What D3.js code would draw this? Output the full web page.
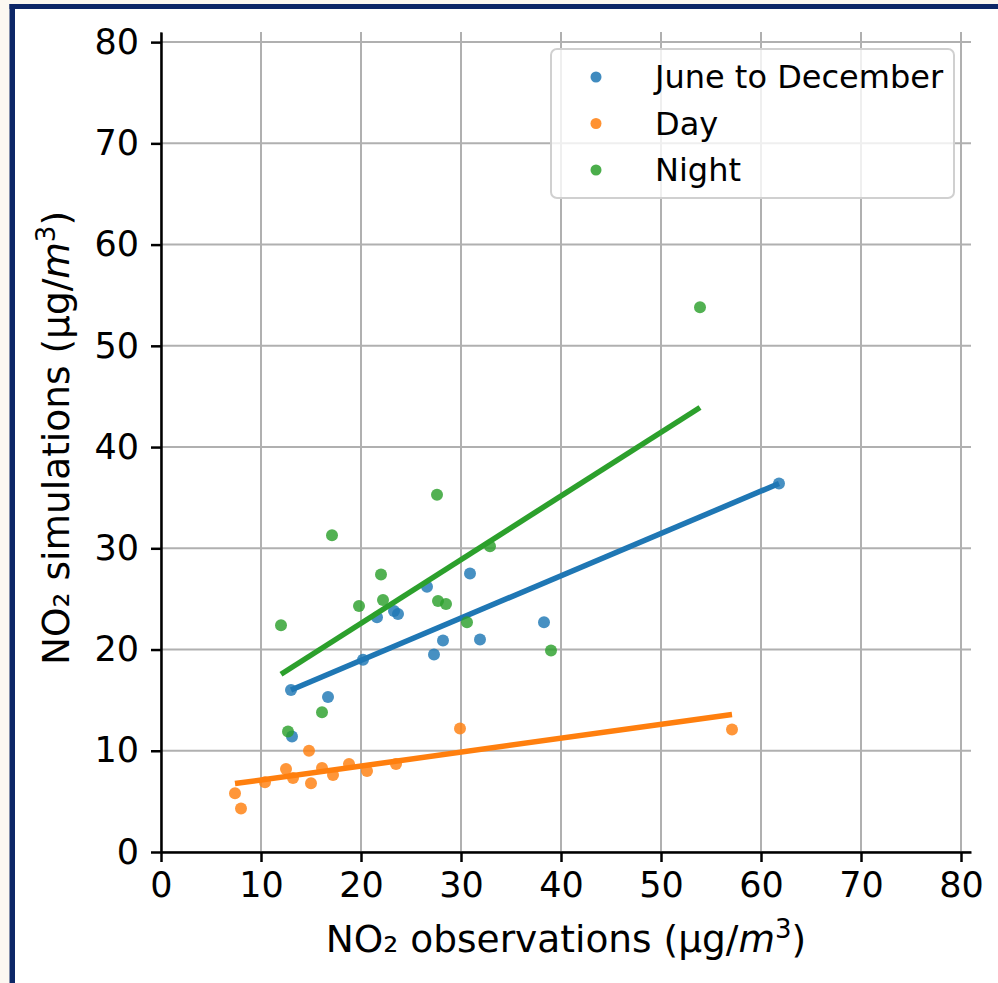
<!DOCTYPE html>
<html>
<head>
<meta charset="utf-8">
<script src="https://cdn.jsdelivr.net/npm/d3@7"></script>
<style>
  html, body { margin: 0; padding: 0; background: #fcf8f1; }
  svg { display: block; }
  text { font-family: "DejaVu Sans", sans-serif; fill: #000; }
</style>
</head>
<body>
<svg id="chart" width="998" height="983"></svg>
<script>
// ---------- data ----------
const seriesNames = ["June to December", "Day", "Night"];
const seriesColors = ["#1f77b4", "#ff7f0e", "#2ca02c"];

const juneDecX = [13.0, 13.1, 16.7, 20.2, 21.6, 23.3, 23.7, 26.6, 27.3, 28.2, 30.9, 31.9, 38.3, 61.8];
const juneDecY = [16.0, 11.4, 15.3, 19.0, 23.2, 23.8, 23.5, 26.2, 19.5, 20.9, 27.5, 21.0, 22.7, 36.4];

const dayX = [7.4, 8.0, 10.4, 12.5, 13.2, 14.8, 15.0, 16.1, 17.2, 18.8, 20.6, 23.5, 29.9, 57.1];
const dayY = [5.8, 4.3, 6.9, 8.2, 7.3, 10.0, 6.8, 8.3, 7.6, 8.7, 8.0, 8.7, 12.2, 12.1];

const nightX = [12.0, 12.7, 16.1, 17.1, 19.8, 22.0, 22.2, 27.6, 27.7, 28.5, 30.6, 32.9, 39.0, 53.9];
const nightY = [22.4, 11.9, 13.8, 31.3, 24.3, 27.4, 24.9, 35.3, 24.8, 24.5, 22.7, 30.2, 19.9, 53.8];

// fitted regression lines [slope, intercept] as drawn in the reference
const juneDecFit = [0.418, 10.57];
const dayFit = [0.1375, 5.74];
const nightFit = [0.629, 10.01];

const xTicks = [0, 10, 20, 30, 40, 50, 60, 70, 80];
const yTicks = [0, 10, 20, 30, 40, 50, 60, 70, 80];

// ---------- drawing ----------
const svg = d3.select("#chart");

// page frame
svg.append("rect").attr("x", 15).attr("y", 9).attr("width", 983).attr("height", 974).attr("fill", "#ffffff");
svg.append("rect").attr("x", 9.5).attr("y", 4).attr("width", 5.5).attr("height", 979).attr("fill", "#0d2767");
svg.append("rect").attr("x", 9.5).attr("y", 4).attr("width", 988.5).attr("height", 5).attr("fill", "#0d2767");

const x = d3.scaleLinear().domain([0, 81]).range([161, 971]);
const y = d3.scaleLinear().domain([0, 81]).range([852, 32]);

// grid
const grid = svg.append("g");
grid.selectAll("line.vx").data(xTicks).join("line")
  .attr("x1", d => x(d)).attr("x2", d => x(d))
  .attr("y1", y(81)).attr("y2", y(0))
  .attr("stroke", "#b0b0b0").attr("stroke-width", 2);
grid.selectAll("line.hy").data(yTicks).join("line")
  .attr("y1", d => y(d)).attr("y2", d => y(d))
  .attr("x1", x(0)).attr("x2", x(81))
  .attr("stroke", "#b0b0b0").attr("stroke-width", 2);

// series
const series = [
  { name: seriesNames[0], color: seriesColors[0], xs: juneDecX, ys: juneDecY, fit: juneDecFit },
  { name: seriesNames[1], color: seriesColors[1], xs: dayX, ys: dayY, fit: dayFit },
  { name: seriesNames[2], color: seriesColors[2], xs: nightX, ys: nightY, fit: nightFit }
];

series.forEach(s => {
  const pts = s.xs.map((v, i) => [v, s.ys[i]]);
  svg.append("g").selectAll("circle").data(pts).join("circle")
    .attr("cx", d => x(d[0])).attr("cy", d => y(d[1])).attr("r", 6)
    .attr("fill", s.color).attr("fill-opacity", 0.82);
  const ext = d3.extent(s.xs);
  const line = d3.line().x(d => x(d)).y(d => y(s.fit[0] * d + s.fit[1]));
  svg.append("path").datum(ext).attr("d", line)
    .attr("stroke", s.color).attr("stroke-width", 5.5).attr("fill", "none");
});

// axes
const xAxis = svg.append("g").attr("transform", `translate(0,${y(0)})`)
  .call(d3.axisBottom(x).tickValues(xTicks).tickSize(10).tickPadding(10).tickSizeOuter(0));
const yAxis = svg.append("g").attr("transform", `translate(${x(0)},0)`)
  .call(d3.axisLeft(y).tickValues(yTicks).tickSize(10).tickPadding(12).tickSizeOuter(0));
[xAxis, yAxis].forEach(a => {
  a.select(".domain").attr("stroke", "#000").attr("stroke-width", 2.5);
  a.selectAll(".tick line").attr("stroke", "#000").attr("stroke-width", 2.5);
  a.selectAll(".tick text").style("font-family", "DejaVu Sans").style("font-size", "35px").attr("fill", "#000");
});

// axis labels
const xl = svg.append("text").attr("x", 566).attr("y", 952).attr("text-anchor", "middle").style("font-size", "37.5px");
xl.append("tspan").text("NO₂ observations (µg/");
xl.append("tspan").style("font-style", "italic").text("m");
xl.append("tspan").attr("dy", -14).style("font-size", "26px").text("3");
xl.append("tspan").attr("dy", 14).text(")");

const yl = svg.append("text").attr("transform", "translate(69,438) rotate(-90)").attr("text-anchor", "middle").style("font-size", "37.5px");
yl.append("tspan").text("NO₂ simulations (µg/");
yl.append("tspan").style("font-style", "italic").text("m");
yl.append("tspan").attr("dy", -14).style("font-size", "26px").text("3");
yl.append("tspan").attr("dy", 14).text(")");

// legend
const lg = svg.append("g");
lg.append("rect").attr("x", 551).attr("y", 49).attr("width", 403).attr("height", 149).attr("rx", 6)
  .attr("fill", "#ffffff").attr("fill-opacity", 0.8).attr("stroke", "#d0d0d0").attr("stroke-width", 2);
series.forEach((s, i) => {
  const cy = 77 + i * 46.5;
  lg.append("circle").attr("cx", 596).attr("cy", cy).attr("r", 5.5).attr("fill", s.color).attr("fill-opacity", 0.85);
  lg.append("text").attr("x", 655).attr("y", cy + 11).style("font-size", "32px").text(s.name);
});
</script>
</body>
</html>
